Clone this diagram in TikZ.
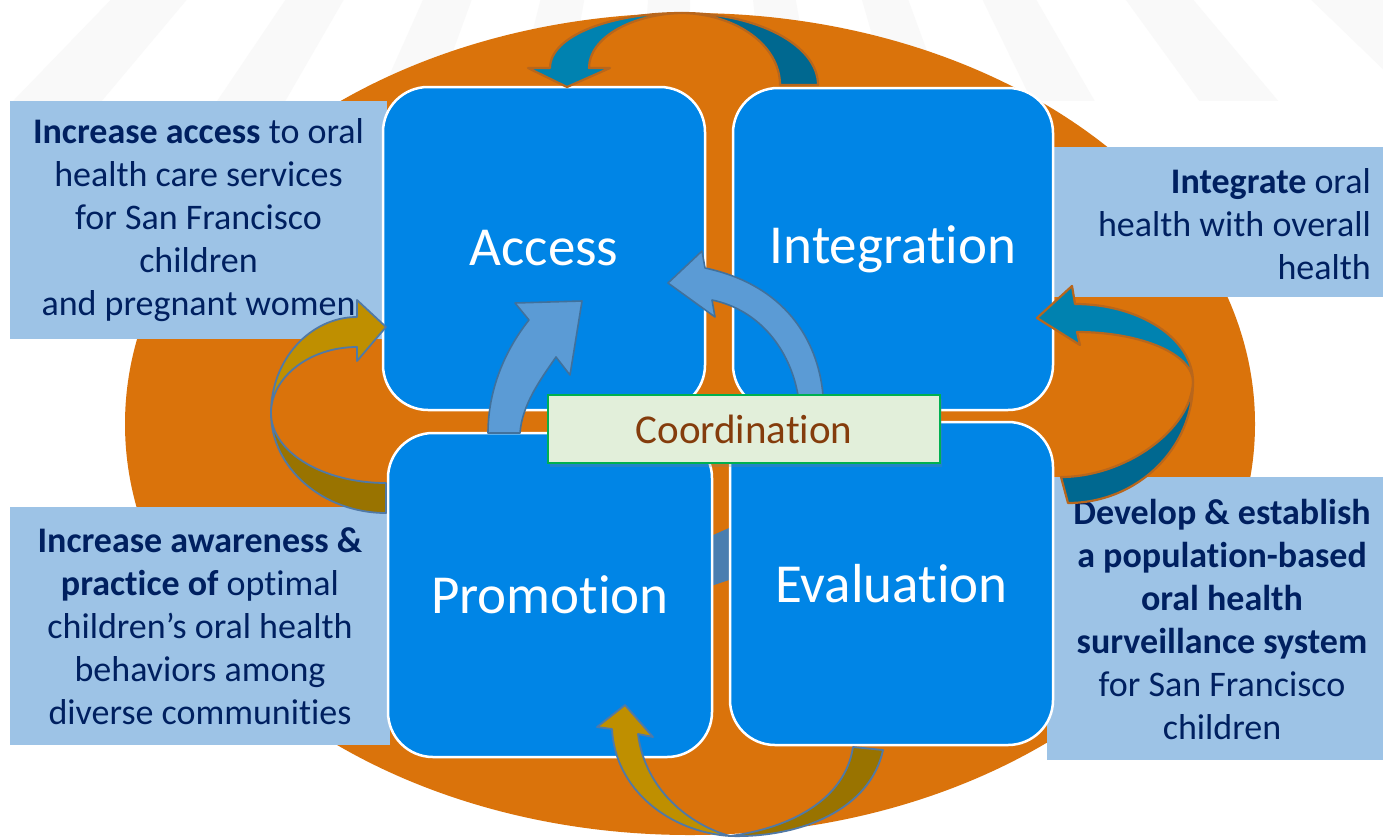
\documentclass[tikz,border=0pt]{standalone}
\usepackage{fontspec}
\setmainfont{Carlito}[Ligatures={NoCommon}]
\usetikzlibrary{shapes.geometric,shadows}
\definecolor{orangebg}{RGB}{218,115,11}
\definecolor{boxblue}{RGB}{0,133,230}
\definecolor{lightbox}{RGB}{157,195,230}
\definecolor{navy}{RGB}{0,32,96}
\definecolor{tealA}{RGB}{0,130,176}
\definecolor{tealB}{RGB}{0,104,144}
\definecolor{tealedge}{RGB}{184,102,28}
\definecolor{goldA}{RGB}{191,143,0}
\definecolor{goldB}{RGB}{153,115,0}
\definecolor{goldedge}{RGB}{80,121,166}
\definecolor{midblue}{RGB}{91,155,213}
\definecolor{midedge}{RGB}{65,113,156}
\definecolor{hidden}{RGB}{74,126,176}
\definecolor{coordfill}{RGB}{226,239,218}
\definecolor{coordedge}{RGB}{0,176,80}
\definecolor{coordtext}{RGB}{132,60,12}
\definecolor{raycol}{RGB}{249,249,249}
\begin{document}
\begin{tikzpicture}[x=1pt,y=-1pt,
  infobox/.style={fill=lightbox, inner sep=0pt, text=navy, align=center,
    font=\fontsize{36}{43}\selectfont},
  infotext/.style={inner sep=0pt, text=navy, font=\fontsize{36}{43}\selectfont},
  bluebox/.style={fill=boxblue, draw=white, line width=2.5pt, rounded corners=45pt,
    text=white, font=\fontsize{55}{60}\selectfont, inner sep=0pt},
  coordbox/.style={fill=coordfill, draw=coordedge, line width=1.8pt, text=coordtext,
    font=\fontsize{41}{46}\selectfont, inner sep=0pt,
    drop shadow={shadow xshift=2pt, shadow yshift=-4pt, opacity=0.25}},
  tealarrowA/.style={fill=tealA, draw=tealedge, line width=2.2pt, line join=round},
  tealarrowB/.style={fill=tealB, draw=tealedge, line width=2.2pt, line join=round},
  goldarrowA/.style={fill=goldA, draw=goldedge, line width=1.8pt, line join=round},
  goldarrowB/.style={fill=goldB, draw=goldedge, line width=1.8pt, line join=round},
  midarrow/.style={fill=midblue, draw=midedge, line width=1.6pt, line join=round}]
\useasboundingbox (0,0) rectangle (1383,839);
\fill[white] (0,0) rectangle (1383,839);
% faint background rays, only near the top
\begin{scope}
\clip (0,0) rectangle (1383,100);
\foreach \a in {20,30,...,160} {
  \fill[raycol] (690,-600) -- +(\a:1200) -- +(\a+4:1200) -- cycle;
}
\end{scope}
% orange oval
\node[ellipse, fill=orangebg, minimum width=1130pt, minimum height=822pt, inner sep=0pt] (oval) at (690,424) {};
% goal boxes
\node[infobox, minimum width=377pt, minimum height=238pt] (goalaccess) at (198.5,220)
  {\textbf{Increase access} to oral\\health care services\\for San Francisco\\children\\and pregnant women};
\node[infobox, minimum width=380pt, minimum height=238pt] (goalpromo) at (200,626)
  {\textbf{Increase awareness \&}\\\textbf{practice of} optimal\\children’s oral health\\behaviors among\\diverse communities};
\node[fill=lightbox, minimum width=330pt, minimum height=150pt, inner sep=0pt] (goalintbox) at (1218,222) {};
\node[infotext, align=right, anchor=east] (goalint) at (1371,224)
  {\textbf{Integrate} oral\\health with overall\\health};
\node[fill=lightbox, minimum width=336pt, minimum height=283pt, inner sep=0pt] (goalevalbox) at (1215,618.5) {};
\node[infotext, align=center] (goaleval) at (1222,619)
  {\textbf{Develop \& establish}\\\textbf{a population-based}\\\textbf{oral health}\\\textbf{surveillance system}\\for San Francisco\\children};
% hidden arrow piece between Promotion and Evaluation
\fill[hidden] (711,536) -- (729,528) -- (729,580) -- (711,586) -- cycle;
% quadrant boxes
\node[bluebox, minimum width=322pt, minimum height=323pt] (access) at (544,248.5) {Access};
\node[bluebox, minimum width=320pt, minimum height=322pt] (integ) at (893,249) {Integration};
\node[bluebox, minimum width=324pt, minimum height=324pt] (promo) at (550,595) {Promotion};
\node[bluebox, minimum width=323pt, minimum height=323pt] (evalu) at (891.5,583.5) {Evaluation};
% top arrow: Integration -> Access
\path[tealarrowB] (682,13) .. controls (757,13) and (818,45) .. (818,85)
  -- (780,85) .. controls (780,45) and (736,14) .. (682,13) -- cycle;
\path[tealarrowA] (550,68) .. controls (550,36) and (610,13) .. (682,13)
  .. controls (631,14) and (589,38) .. (589,68) -- (610,68) -- (567,87) -- (528,68) -- cycle;
% right arrow: Evaluation -> Integration
\path[tealarrowA] (1075,304) .. controls (1140,304) and (1193,339) .. (1193,382)
  .. controls (1193,354) and (1141,332) .. (1077,332) -- (1080,345) -- (1037,318) -- (1072,286) -- cycle;
\path[tealarrowB] (1193,382) .. controls (1193,449) and (1137,503) .. (1068,503)
  -- (1061,477) .. controls (1125,477) and (1191,430) .. (1193,382) -- cycle;
% left arrow: Promotion -> Access
\path[goldarrowB] (271,413) .. controls (271,468) and (323,513) .. (386,513)
  -- (386,483) .. controls (323,483) and (271,452) .. (271,413) -- cycle;
\path[goldarrowA] (271,413) .. controls (271,360) and (310,317) .. (357,317)
  -- (357,300) -- (386,327) -- (357,361) -- (357,347)
  .. controls (310,347) and (271,377) .. (271,413) -- cycle;
% bottom arrow: Evaluation -> Promotion
\path[goldarrowB] (883,750) .. controls (870,810) and (800,838) .. (730,836)
  .. controls (790,828) and (845,800) .. (853,747) -- cycle;
\path[goldarrowA] (612,729) .. controls (615,790) and (670,832) .. (730,836)
  .. controls (690,825) and (645,790) .. (638,734) -- (653,737) -- (625,705) -- (597,727) -- cycle;
% centre arrows
\path[midarrow] (488,433) .. controls (488,390) and (505,350) .. (529,320)
  -- (515,303) -- (582,301) -- (570,375) -- (556,357)
  .. controls (540,380) and (522,405) .. (520,433) -- cycle;
\path[midarrow] (823,395) .. controls (818,340) and (785,285) .. (705,268)
  -- (702,251) -- (668,283) -- (715,317) -- (712,300)
  .. controls (760,310) and (790,350) .. (798,395) -- cycle;
% coordination
\node[coordbox, minimum width=392pt, minimum height=68pt] (coord) at (744,429) {Coordination};
\end{tikzpicture}
\end{document}
